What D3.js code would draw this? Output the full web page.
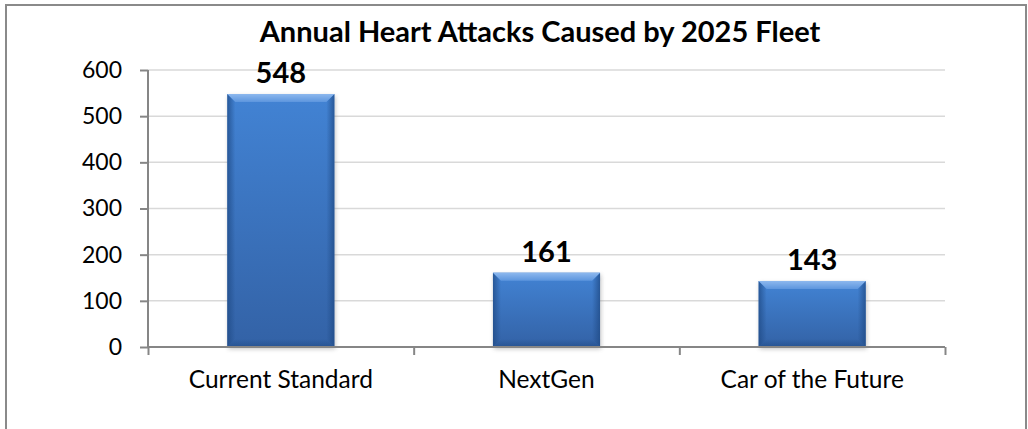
<!DOCTYPE html>
<html>
<head>
<meta charset="utf-8">
<script src="https://cdn.jsdelivr.net/npm/d3@7"></script>
<style>
  html, body { margin: 0; padding: 0; background: #fff; }
  svg { display: block; }
  text { font-family: Lato, "Open Sans", sans-serif; fill: #000; }
</style>
</head>
<body>
<svg id="chart" width="1028" height="429"></svg>
<script>
// Chart data
const categories = ["Current Standard", "NextGen", "Car of the Future"];
const values = [548, 161, 143];
const yTicks = [0, 100, 200, 300, 400, 500, 600];
const titleText = "Annual Heart Attacks Caused by 2025 Fleet";

const svg = d3.select("#chart");
const W = 1028, H = 429;
const plot = { left: 148, right: 945, top: 70, bottom: 347 };

// Outer chart frame
svg.append("rect")
  .attr("x", 6).attr("y", 5)
  .attr("width", 1020).attr("height", H + 10)
  .attr("fill", "#fff")
  .attr("stroke", "#8a8a8a").attr("stroke-width", 2);

const y = d3.scaleLinear().domain([0, 600]).range([plot.bottom, plot.top]);
const x = d3.scaleBand().domain(categories)
  .range([plot.left, plot.right])
  .paddingInner(0.597).paddingOuter(0.2985);
const xEdge = d3.scaleLinear().domain([0, categories.length]).range([plot.left, plot.right]);

// Gradients for the bevelled bars
const defs = svg.append("defs");
const body = defs.append("linearGradient").attr("id", "barBody")
  .attr("x1", 0).attr("y1", 0).attr("x2", 0).attr("y2", 1);
body.append("stop").attr("offset", "0%").attr("stop-color", "#4283d4");
body.append("stop").attr("offset", "100%").attr("stop-color", "#3362a6");

const leftG = defs.append("linearGradient").attr("id", "barLeft")
  .attr("x1", 0).attr("y1", 0).attr("x2", 1).attr("y2", 0);
leftG.append("stop").attr("offset", "0%").attr("stop-color", "#1f4a85").attr("stop-opacity", 0.75);
leftG.append("stop").attr("offset", "100%").attr("stop-color", "#1f4a85").attr("stop-opacity", 0);

const rightG = defs.append("linearGradient").attr("id", "barRight")
  .attr("x1", 1).attr("y1", 0).attr("x2", 0).attr("y2", 0);
rightG.append("stop").attr("offset", "0%").attr("stop-color", "#1f4a85").attr("stop-opacity", 0.75);
rightG.append("stop").attr("offset", "100%").attr("stop-color", "#1f4a85").attr("stop-opacity", 0);

const topG = defs.append("linearGradient").attr("id", "barTop")
  .attr("x1", 0).attr("y1", 0).attr("x2", 0).attr("y2", 1);
topG.append("stop").attr("offset", "0%").attr("stop-color", "#8db8ee");
topG.append("stop").attr("offset", "100%").attr("stop-color", "#5d96de");

const botG = defs.append("linearGradient").attr("id", "barBottom")
  .attr("x1", 0).attr("y1", 1).attr("x2", 0).attr("y2", 0);
botG.append("stop").attr("offset", "0%").attr("stop-color", "#1f4a85").attr("stop-opacity", 0.6);
botG.append("stop").attr("offset", "100%").attr("stop-color", "#1f4a85").attr("stop-opacity", 0);

const shadowF = defs.append("filter").attr("id", "barShadow")
  .attr("x", "-20%").attr("y", "-20%").attr("width", "140%").attr("height", "140%");
shadowF.append("feGaussianBlur").attr("stdDeviation", 2);

// Horizontal gridlines
svg.append("g")
  .selectAll("line").data(yTicks.filter(d => d > 0)).join("line")
  .attr("x1", plot.left).attr("x2", plot.right)
  .attr("y1", d => y(d)).attr("y2", d => y(d))
  .attr("stroke", "#d9d9d9").attr("stroke-width", 1.5);

// Bars
const bw = x.bandwidth();
const bev = 8;
const bars = svg.append("g").selectAll("g").data(values).join("g")
  .attr("transform", (d, i) => `translate(${x(categories[i])},${y(d)})`);

bars.append("rect")
  .attr("x", 1).attr("y", 2)
  .attr("width", bw).attr("height", d => y(0) - y(d))
  .attr("fill", "#7a7a7a").attr("opacity", 0.45)
  .attr("filter", "url(#barShadow)");

bars.append("rect")
  .attr("width", bw).attr("height", d => y(0) - y(d))
  .attr("fill", "url(#barBody)");

bars.append("path")
  .attr("d", d => { const h = y(0) - y(d);
    return `M0,0L${bev},${bev}L${bev},${h - bev}L0,${h}Z`; })
  .attr("fill", "url(#barLeft)");

bars.append("path")
  .attr("d", d => { const h = y(0) - y(d);
    return `M${bw},0L${bw - bev},${bev}L${bw - bev},${h - bev}L${bw},${h}Z`; })
  .attr("fill", "url(#barRight)");

bars.append("path")
  .attr("d", d => { const h = y(0) - y(d);
    return `M0,${h}L${bev},${h - bev}L${bw - bev},${h - bev}L${bw},${h}Z`; })
  .attr("fill", "url(#barBottom)");

bars.append("path")
  .attr("d", `M0,0L${bw},0L${bw - bev},${bev}L${bev},${bev}Z`)
  .attr("fill", "url(#barTop)");

// Value labels
svg.append("g").selectAll("text").data(values).join("text")
  .attr("x", (d, i) => x(categories[i]) + bw / 2)
  .attr("y", d => y(d) - 11)
  .attr("text-anchor", "middle")
  .attr("font-size", 29).attr("font-weight", "bold")
  .text(d => d);

// Y axis
const yAxis = svg.append("g")
  .attr("transform", `translate(${plot.left},0)`)
  .call(d3.axisLeft(y).tickValues(yTicks).tickSize(8).tickPadding(18));
yAxis.select(".domain").attr("stroke", "#868686").attr("stroke-width", 2)
  .attr("d", `M0,${plot.top}V${plot.bottom}`);
yAxis.selectAll(".tick line").attr("stroke", "#868686").attr("stroke-width", 2);
yAxis.selectAll(".tick text")
  .attr("font-size", 23).attr("font-family", "Lato, 'Open Sans', sans-serif")
  .attr("fill", "#000");

// Category axis
const xAxis = svg.append("g")
  .attr("transform", `translate(0,${plot.bottom})`)
  .call(d3.axisBottom(xEdge).tickValues(d3.range(categories.length + 1)).tickSize(8).tickFormat(""));
xAxis.select(".domain").attr("stroke", "#868686").attr("stroke-width", 2)
  .attr("d", `M${plot.left},0H${plot.right}`);
xAxis.selectAll(".tick line").attr("stroke", "#868686").attr("stroke-width", 2);

svg.append("g").selectAll("text").data(categories).join("text")
  .attr("x", d => x(d) + bw / 2)
  .attr("y", 388)
  .attr("text-anchor", "middle")
  .attr("font-size", 24.5)
  .text(d => d);

// Title
svg.append("text")
  .attr("x", 540).attr("y", 42)
  .attr("text-anchor", "middle")
  .attr("font-size", 29).attr("font-weight", "bold")
  .text(titleText);
</script>
</body>
</html>
